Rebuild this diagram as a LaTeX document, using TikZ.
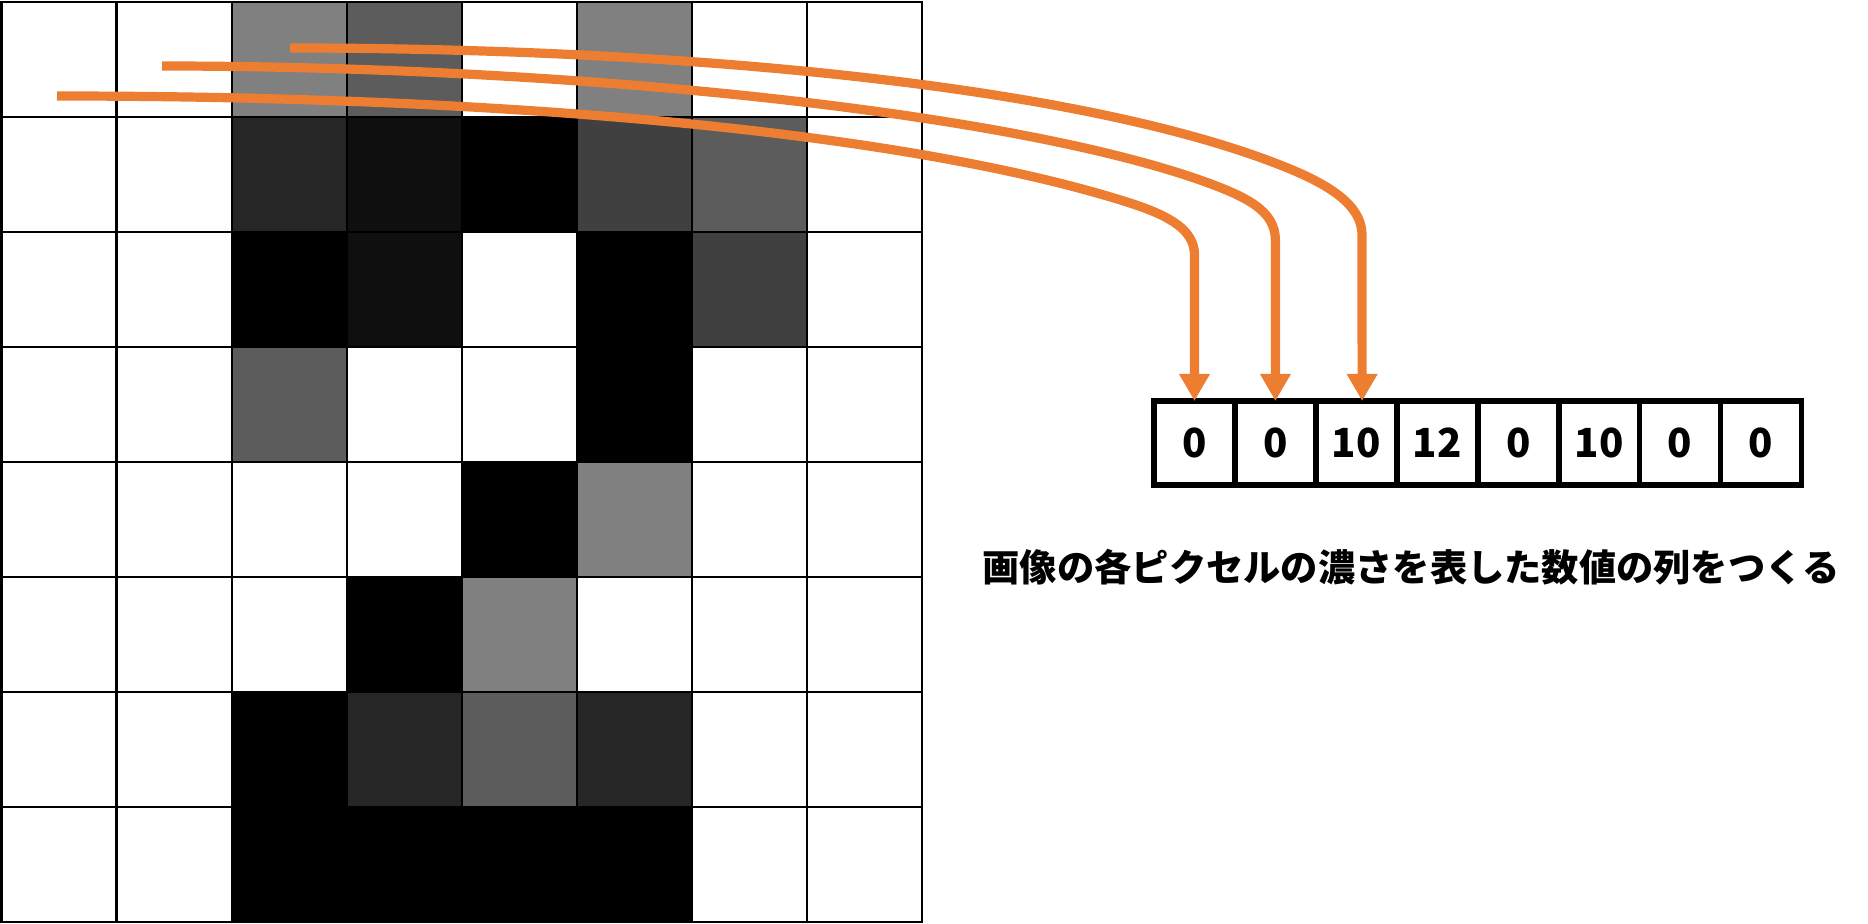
\documentclass[tikz,border=0pt]{standalone}
\usepackage{fontspec}
\newfontfamily\jpfont{Noto Sans CJK JP}
\usetikzlibrary{arrows.meta,positioning}
\definecolor{flowor}{HTML}{ED7D31}
\tikzset{
  pixline/.style={line width=0.02cm, draw=black, line cap=rect},
  cellbox/.style={draw, line width=0.055cm, outer sep=0pt, inner sep=0pt,
    minimum width=0.809cm, minimum height=0.84cm,
    font=\jpfont\bfseries\fontsize{11.4}{13}\selectfont},
  flow/.style={draw=flowor, line width=0.092cm,
    -{Triangle[length=0.27cm,width=0.29cm]}}
}

\begin{document}
\begin{tikzpicture}[x=0.01cm, y=-0.01cm]
\useasboundingbox (0,0) rectangle (1868,924);
% shades of the 8x8 image, one row per entry
\foreach \row [count=\j from 0] in {
  {0,0,50,64,0,50,0,0},
  {0,0,85,94,100,75,64,0},
  {0,0,100,94,0,100,75,0},
  {0,0,64,0,0,100,0,0},
  {0,0,0,0,100,50,0,0},
  {0,0,0,100,50,0,0,0},
  {0,0,100,85,64,85,0,0},
  {0,0,100,100,100,100,0,0}}{
  \foreach \v [count=\i from 0] in \row
    \fill[black!\v] (1.5+115*\i,2+115*\j) rectangle ++(115,115);
}
\foreach \k in {0,...,8}{
  \draw[pixline] (1.5+115*\k,2) -- ++(0,920);
  \draw[pixline] (1.5,2+115*\k) -- ++(920,0);
}

% first row as numbers
\node[cellbox] (c1) at (1194.5,443) {0};
\foreach \v [count=\i from 2, remember=\i as \p (initially 1)] in {0,10,12,0,10,0,0}
  \node[cellbox, right=0pt of c\p] (c\i) {\v};

\node[font=\jpfont\bfseries\fontsize{10.6}{13}\selectfont] (cap) at (1411,567)
  {画像の各ピクセルの濃さを表した数値の列をつくる};

% connectors
\coordinate (s1) at (57,96);
\coordinate (s2) at (162,66);
\coordinate (s3) at (290,48);
\draw[flow] (s1) .. controls +(500,0) and +(-200,-64) .. (1130,203)
  .. controls +(40,13) and +(0,-25) .. (1194.5,255) -- (c1.north);
\draw[flow] (s2) .. controls +(400,0) and +(-200,-70) .. (1200,180)
  .. controls +(45,16) and +(0,-30) .. (1275.4,240) -- (c2.north);
\draw[flow] (s3) .. controls +(400,0) and +(-200,-74) .. (1267,160)
  .. controls +(50,18.5) and +(0,-35) .. (1362,235) -- ([xshift=0.0575cm]c3.north);
\end{tikzpicture}
\end{document}
